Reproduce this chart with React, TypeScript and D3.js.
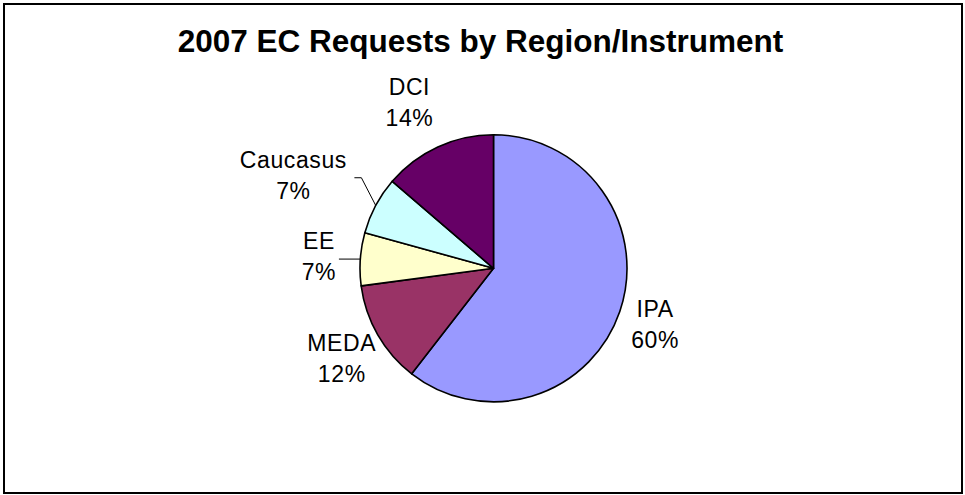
import React from "react";
import * as d3 from "d3";

const categories = ["IPA", "MEDA", "EE", "Caucasus", "DCI"];
const values = [60.5, 12.4, 6.4, 7.0, 13.7];
const percentLabels = ["60%", "12%", "7%", "7%", "14%"];
const colors = ["#9999FF", "#993366", "#FFFFCC", "#CCFFFF", "#660066"];
const title = "2007 EC Requests by Region/Instrument";

// label layout (positions/styles, not data)
const labelLayout: Record<string, { r: number; dx: number; dy: number; leader?: number }> = {
  IPA: { r: 175, dx: -4, dy: 0 },
  MEDA: { r: 175, dx: 0, dy: 3 },
  EE: { r: 175, dx: 0, dy: 0, leader: 20 },
  Caucasus: { r: 220, dx: -6, dy: 11, leader: 61 },
  DCI: { r: 180, dx: -9, dy: -2 },
};

const W = 965;
const H = 495;
const cx = 493.5;
const cy = 268.3;
const R = 133.5;

export default function App() {
  const pieGen = d3
    .pie<number>()
    .sort(null)
    .value((d) => d)
    .startAngle(0)
    .endAngle(2 * Math.PI);
  const arcs = pieGen(values);
  const arcGen = d3.arc<d3.PieArcDatum<number>>().innerRadius(0).outerRadius(R);

  return (
    <svg
      width={W}
      height={H}
      style={{ position: "absolute", left: 0, top: 0, background: "#fff" }}
      fontFamily="'Liberation Sans', Arial, sans-serif"
    >
      <rect x={0} y={0} width={W} height={H} fill="#fff" />
      <rect x={4} y={4} width={958} height={489} fill="none" stroke="#000" strokeWidth={2} />
      <text x={480.5} y={52} textAnchor="middle" fontSize={31.5} fontWeight="bold" fill="#000">
        {title}
      </text>
      <g transform={`translate(${cx},${cy})`}>
        {arcs.map((a, i) => (
          <path key={categories[i]} d={arcGen(a) || ""} fill={colors[i]} stroke="#000" strokeWidth={1.6} strokeLinejoin="round" />
        ))}
        {arcs.map((a, i) => {
          const name = categories[i];
          const lay = labelLayout[name];
          const mid = (a.startAngle + a.endAngle) / 2;
          const lx = Math.sin(mid) * lay.r + lay.dx;
          const ly = -Math.cos(mid) * lay.r + lay.dy;
          const ex = Math.sin(mid) * R;
          const ey = -Math.cos(mid) * R;
          let leader = null;
          if (lay.leader) {
            const startX = lx + lay.leader;
            const startY = ly + 2;
            const elbowX = startX + 7;
            const pts = Math.abs(ey - startY) > 4
              ? `${startX},${startY} ${elbowX},${startY} ${ex},${ey}`
              : `${startX},${ey} ${ex},${ey}`;
            leader = <polyline points={pts} fill="none" stroke="#000" strokeWidth={1} />;
          }
          return (
            <g key={"lab" + name}>
              {leader}
              <text x={lx} y={ly - 7.5} textAnchor="middle" fontSize={23} letterSpacing={0.6} fill="#000">
                {name}
              </text>
              <text x={lx} y={ly + 23.5} textAnchor="middle" fontSize={23} letterSpacing={0.6} fill="#000">
                {percentLabels[i]}
              </text>
            </g>
          );
        })}
      </g>
    </svg>
  );
}
